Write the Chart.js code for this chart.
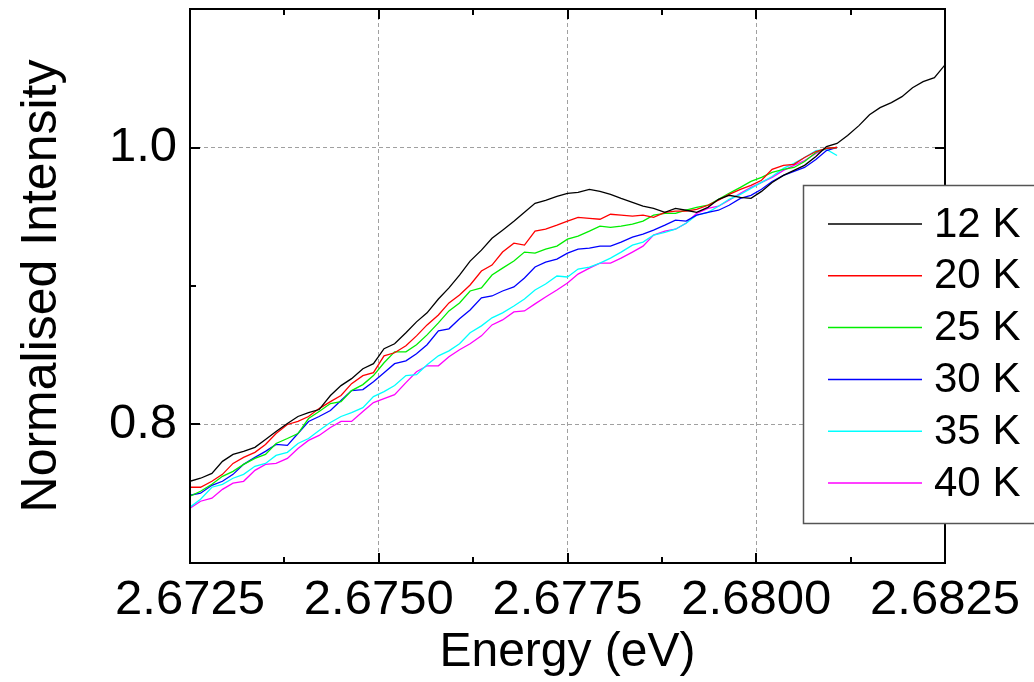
<!DOCTYPE html>
<html>
<head>
<meta charset="utf-8">
<script src="https://cdn.jsdelivr.net/npm/chart.js@4.4.0/dist/chart.umd.min.js"></script>
<style>
html,body{margin:0;padding:0;background:#fff;}
#wrap{width:1034px;height:682px;position:relative;}
</style>
</head>
<body>
<div id="wrap"><canvas id="c" width="1034" height="682"></canvas></div>
<script>
// ---- Data ----
const energy = [
  2.67250, 2.67264, 2.67279, 2.67293, 2.67307, 2.67321, 2.67336, 2.67350, 2.67364, 2.67379,
  2.67393, 2.67407, 2.67421, 2.67436, 2.67450, 2.67464, 2.67479, 2.67493, 2.67507, 2.67521,
  2.67536, 2.67550, 2.67564, 2.67579, 2.67593, 2.67607, 2.67621, 2.67636, 2.67650, 2.67664,
  2.67679, 2.67693, 2.67707, 2.67721, 2.67736, 2.67750, 2.67764, 2.67779, 2.67793, 2.67807,
  2.67821, 2.67836, 2.67850, 2.67864, 2.67879, 2.67893, 2.67907, 2.67921, 2.67936, 2.67950,
  2.67964, 2.67979, 2.67993, 2.68007, 2.68021, 2.68036, 2.68050, 2.68064, 2.68079, 2.68093,
  2.68107, 2.68121, 2.68136, 2.68150, 2.68164, 2.68179, 2.68193, 2.68207, 2.68221, 2.68236,
  2.68250
];

const seriesLabels = ['12 K', '20 K', '25 K', '30 K', '35 K', '40 K'];

const int12K = [
  0.7590, 0.7612, 0.7647, 0.7734, 0.7784, 0.7806, 0.7835, 0.7892, 0.7950, 0.8007,
  0.8058, 0.8086, 0.8108, 0.8209, 0.8281, 0.8331, 0.8403, 0.8439, 0.8547, 0.8583,
  0.8662, 0.8741, 0.8806, 0.8906, 0.8986, 0.9079, 0.9180, 0.9259, 0.9345, 0.9403,
  0.9468, 0.9532, 0.9597, 0.9619, 0.9647, 0.9669, 0.9676, 0.9698, 0.9683, 0.9662,
  0.9633, 0.9604, 0.9576, 0.9561, 0.9532, 0.9561, 0.9547, 0.9532, 0.9568, 0.9626,
  0.9655, 0.9640, 0.9633, 0.9683, 0.9748, 0.9799, 0.9835, 0.9871, 0.9935, 1.0007,
  1.0029, 1.0086, 1.0158, 1.0237, 1.0288, 1.0324, 1.0367, 1.0432, 1.0475, 1.0504,
  1.0597
];
const int20K = [
  0.7547, 0.7547, 0.7590, 0.7640, 0.7719, 0.7763, 0.7799, 0.7856, 0.7935, 0.8000,
  0.8022, 0.8058, 0.8115, 0.8165, 0.8209, 0.8295, 0.8353, 0.8374, 0.8496, 0.8518,
  0.8568, 0.8640, 0.8719, 0.8791, 0.8878, 0.8935, 0.9007, 0.9108, 0.9151, 0.9245,
  0.9309, 0.9295, 0.9396, 0.9410, 0.9439, 0.9468, 0.9496, 0.9489, 0.9482, 0.9518,
  0.9511, 0.9504, 0.9511, 0.9496, 0.9532, 0.9540, 0.9540, 0.9554, 0.9583, 0.9619,
  0.9662, 0.9698, 0.9727, 0.9763, 0.9842, 0.9871, 0.9878, 0.9928, 0.9971, 0.9993,
  1.0000
];
const int25K = [
  0.7482, 0.7518, 0.7568, 0.7626, 0.7662, 0.7712, 0.7755, 0.7784, 0.7863, 0.7899,
  0.7935, 0.8043, 0.8094, 0.8151, 0.8165, 0.8245, 0.8288, 0.8353, 0.8446, 0.8525,
  0.8525, 0.8576, 0.8647, 0.8734, 0.8820, 0.8878, 0.8964, 0.8986, 0.9079, 0.9129,
  0.9180, 0.9245, 0.9237, 0.9266, 0.9288, 0.9338, 0.9360, 0.9396, 0.9432, 0.9424,
  0.9432, 0.9446, 0.9468, 0.9511, 0.9525, 0.9525, 0.9547, 0.9568, 0.9583, 0.9626,
  0.9669, 0.9712, 0.9755, 0.9784, 0.9820, 0.9842, 0.9856, 0.9899, 0.9964, 0.9993,
  1.0000
];
const int30K = [
  0.7489, 0.7504, 0.7561, 0.7590, 0.7640, 0.7712, 0.7763, 0.7806, 0.7856, 0.7849,
  0.7935, 0.8022, 0.8058, 0.8101, 0.8173, 0.8245, 0.8252, 0.8309, 0.8374, 0.8439,
  0.8460, 0.8511, 0.8576, 0.8676, 0.8691, 0.8763, 0.8827, 0.8914, 0.8928, 0.8964,
  0.8993, 0.9058, 0.9137, 0.9173, 0.9194, 0.9237, 0.9266, 0.9273, 0.9288, 0.9288,
  0.9317, 0.9353, 0.9374, 0.9403, 0.9439, 0.9475, 0.9468, 0.9511, 0.9532, 0.9547,
  0.9583, 0.9633, 0.9655, 0.9698, 0.9755, 0.9799, 0.9827, 0.9856, 0.9914, 0.9978,
  1.0000
];
const int35K = [
  0.7403, 0.7460, 0.7547, 0.7568, 0.7612, 0.7640, 0.7698, 0.7719, 0.7777, 0.7799,
  0.7863, 0.7899, 0.7957, 0.8014, 0.8058, 0.8086, 0.8122, 0.8201, 0.8237, 0.8281,
  0.8353, 0.8360, 0.8432, 0.8496, 0.8532, 0.8583, 0.8662, 0.8712, 0.8770, 0.8806,
  0.8856, 0.8906, 0.8971, 0.9014, 0.9072, 0.9065, 0.9122, 0.9137, 0.9165, 0.9201,
  0.9245, 0.9295, 0.9317, 0.9367, 0.9388, 0.9410, 0.9453, 0.9511, 0.9532, 0.9576,
  0.9626, 0.9662, 0.9705, 0.9748, 0.9791, 0.9849, 0.9885, 0.9928, 0.9978, 0.9986,
  0.9942
];
const int40K = [
  0.7396, 0.7446, 0.7468, 0.7532, 0.7576, 0.7590, 0.7669, 0.7712, 0.7719, 0.7755,
  0.7827, 0.7885, 0.7921, 0.7978, 0.8022, 0.8022, 0.8094, 0.8158, 0.8187, 0.8216,
  0.8302, 0.8381, 0.8424, 0.8424, 0.8489, 0.8540, 0.8583, 0.8640, 0.8719, 0.8755,
  0.8813, 0.8820, 0.8871, 0.8921, 0.8971, 0.9022, 0.9086, 0.9129, 0.9165, 0.9165,
  0.9201, 0.9245, 0.9288, 0.9367, 0.9396, 0.9410, 0.9453, 0.9525, 0.9561, 0.9576,
  0.9619, 0.9669, 0.9712, 0.9748, 0.9784, 0.9835, 0.9871, 0.9906, 0.9957, 0.9993,
  1.0000
];

const xTickValues = [2.6725, 2.6750, 2.6775, 2.6800, 2.6825];
const xTickLabels = ['2.6725', '2.6750', '2.6775', '2.6800', '2.6825'];
const xMinorTickValues = [2.67375, 2.67625, 2.67875, 2.68125];
const yTickValues = [0.8, 1.0];
const yTickLabels = ['0.8', '1.0'];
const yMinorTickValues = [0.9];

const seriesValues = [int12K, int20K, int25K, int30K, int35K, int40K];
const seriesColors = ['#000000', '#ff0000', '#00ee00', '#0000ff', '#00ffff', '#ff00ff'];

const FONT = '"Liberation Sans", Arial, Helvetica, sans-serif';

const datasets = seriesValues.map((vals, k) => ({
  label: seriesLabels[k],
  data: vals.map((v, i) => ({ x: energy[i], y: v })),
  borderColor: seriesColors[k],
  backgroundColor: seriesColors[k],
  borderWidth: 1.3,
  pointRadius: 0,
  tension: 0,
  fill: false
}));

const framePlugin = {
  id: 'frameTicks',
  afterDraw(chart) {
    const { ctx, chartArea: a, scales } = chart;
    const xs = scales.x, ys = scales.y;
    ctx.save();
    ctx.strokeStyle = '#000';
    ctx.lineWidth = 2;
    ctx.beginPath();
    const tick = (x1, y1, x2, y2) => { ctx.moveTo(x1, y1); ctx.lineTo(x2, y2); };
    xTickValues.forEach(v => {
      const px = Math.round(xs.getPixelForValue(v));
      tick(px, a.bottom, px, a.bottom - 10);
      tick(px, a.top, px, a.top + 10);
    });
    xMinorTickValues.forEach(v => {
      const px = Math.round(xs.getPixelForValue(v));
      tick(px, a.bottom, px, a.bottom - 6);
      tick(px, a.top, px, a.top + 6);
    });
    yTickValues.forEach(v => {
      const py = Math.round(ys.getPixelForValue(v));
      tick(a.left, py, a.left + 10, py);
      tick(a.right, py, a.right - 10, py);
    });
    yMinorTickValues.forEach(v => {
      const py = Math.round(ys.getPixelForValue(v));
      tick(a.left, py, a.left + 6, py);
      tick(a.right, py, a.right - 6, py);
    });
    ctx.stroke();
    ctx.strokeRect(a.left, a.top, a.right - a.left, a.bottom - a.top);

    // legend box
    const bx = 803, by = 185, bw = 260, bh = 338;
    ctx.fillStyle = '#fff';
    ctx.fillRect(bx, by, bw, bh);
    ctx.strokeStyle = '#555';
    ctx.lineWidth = 1.5;
    ctx.strokeRect(bx + 0.5, by + 0.5, bw, bh);
    chart.data.datasets.forEach((ds, k) => {
      const ry = 224 + k * 51.8;
      ctx.strokeStyle = ds.borderColor;
      ctx.lineWidth = 1.5;
      ctx.beginPath();
      ctx.moveTo(828, ry);
      ctx.lineTo(922, ry);
      ctx.stroke();
      ctx.fillStyle = '#000';
      ctx.font = '42px ' + FONT;
      ctx.textAlign = 'left';
      ctx.textBaseline = 'middle';
      ctx.fillText(ds.label, 934, ry + 1);
    });
    ctx.restore();
  }
};

new Chart(document.getElementById('c'), {
  type: 'line',
  data: { datasets },
  options: {
    responsive: false,
    animation: false,
    devicePixelRatio: 1,
    layout: { padding: { top: 9, right: 89, left: 0, bottom: 0 } },
    plugins: { legend: { display: false }, tooltip: { enabled: false } },
    scales: {
      x: {
        type: 'linear',
        min: 2.6725,
        max: 2.6825,
        afterBuildTicks: s => { s.ticks = xTickValues.map(v => ({ value: v })); },
        afterFit: s => { s.height = 119; s.paddingLeft = 0; s.paddingRight = 0; },
        ticks: {
          autoSkip: false,
          maxRotation: 0,
          minRotation: 0,
          padding: 8,
          color: '#000',
          font: { family: FONT, size: 49 },
          callback: (v, i) => xTickLabels[i]
        },
        grid: {
          drawTicks: false,
          lineWidth: 1,
          color: c => (c.index === 0 || c.index === xTickValues.length - 1) ? 'rgba(0,0,0,0)' : '#a0a0a0'
        },
        border: { display: false, dash: [4, 3] },
        title: {
          display: true,
          text: 'Energy (eV)',
          color: '#000',
          font: { family: FONT, size: 48 },
          padding: { top: 0, bottom: 0 }
        }
      },
      y: {
        type: 'linear',
        min: 0.7,
        max: 1.1,
        afterBuildTicks: s => { s.ticks = yTickValues.map(v => ({ value: v })); },
        afterFit: s => { s.width = 190; s.paddingTop = 0; s.paddingBottom = 0; },
        ticks: {
          padding: 13,
          color: '#000',
          font: { family: FONT, size: 49 },
          callback: (v, i) => yTickLabels[i]
        },
        grid: {
          drawTicks: false,
          lineWidth: 1,
          color: '#a0a0a0'
        },
        border: { display: false, dash: [4, 3] },
        title: {
          display: true,
          text: 'Normalised Intensity',
          color: '#000',
          font: { family: FONT, size: 50 },
          padding: { top: 12, bottom: 0 }
        }
      }
    }
  },
  plugins: [framePlugin]
});
</script>
</body>
</html>
